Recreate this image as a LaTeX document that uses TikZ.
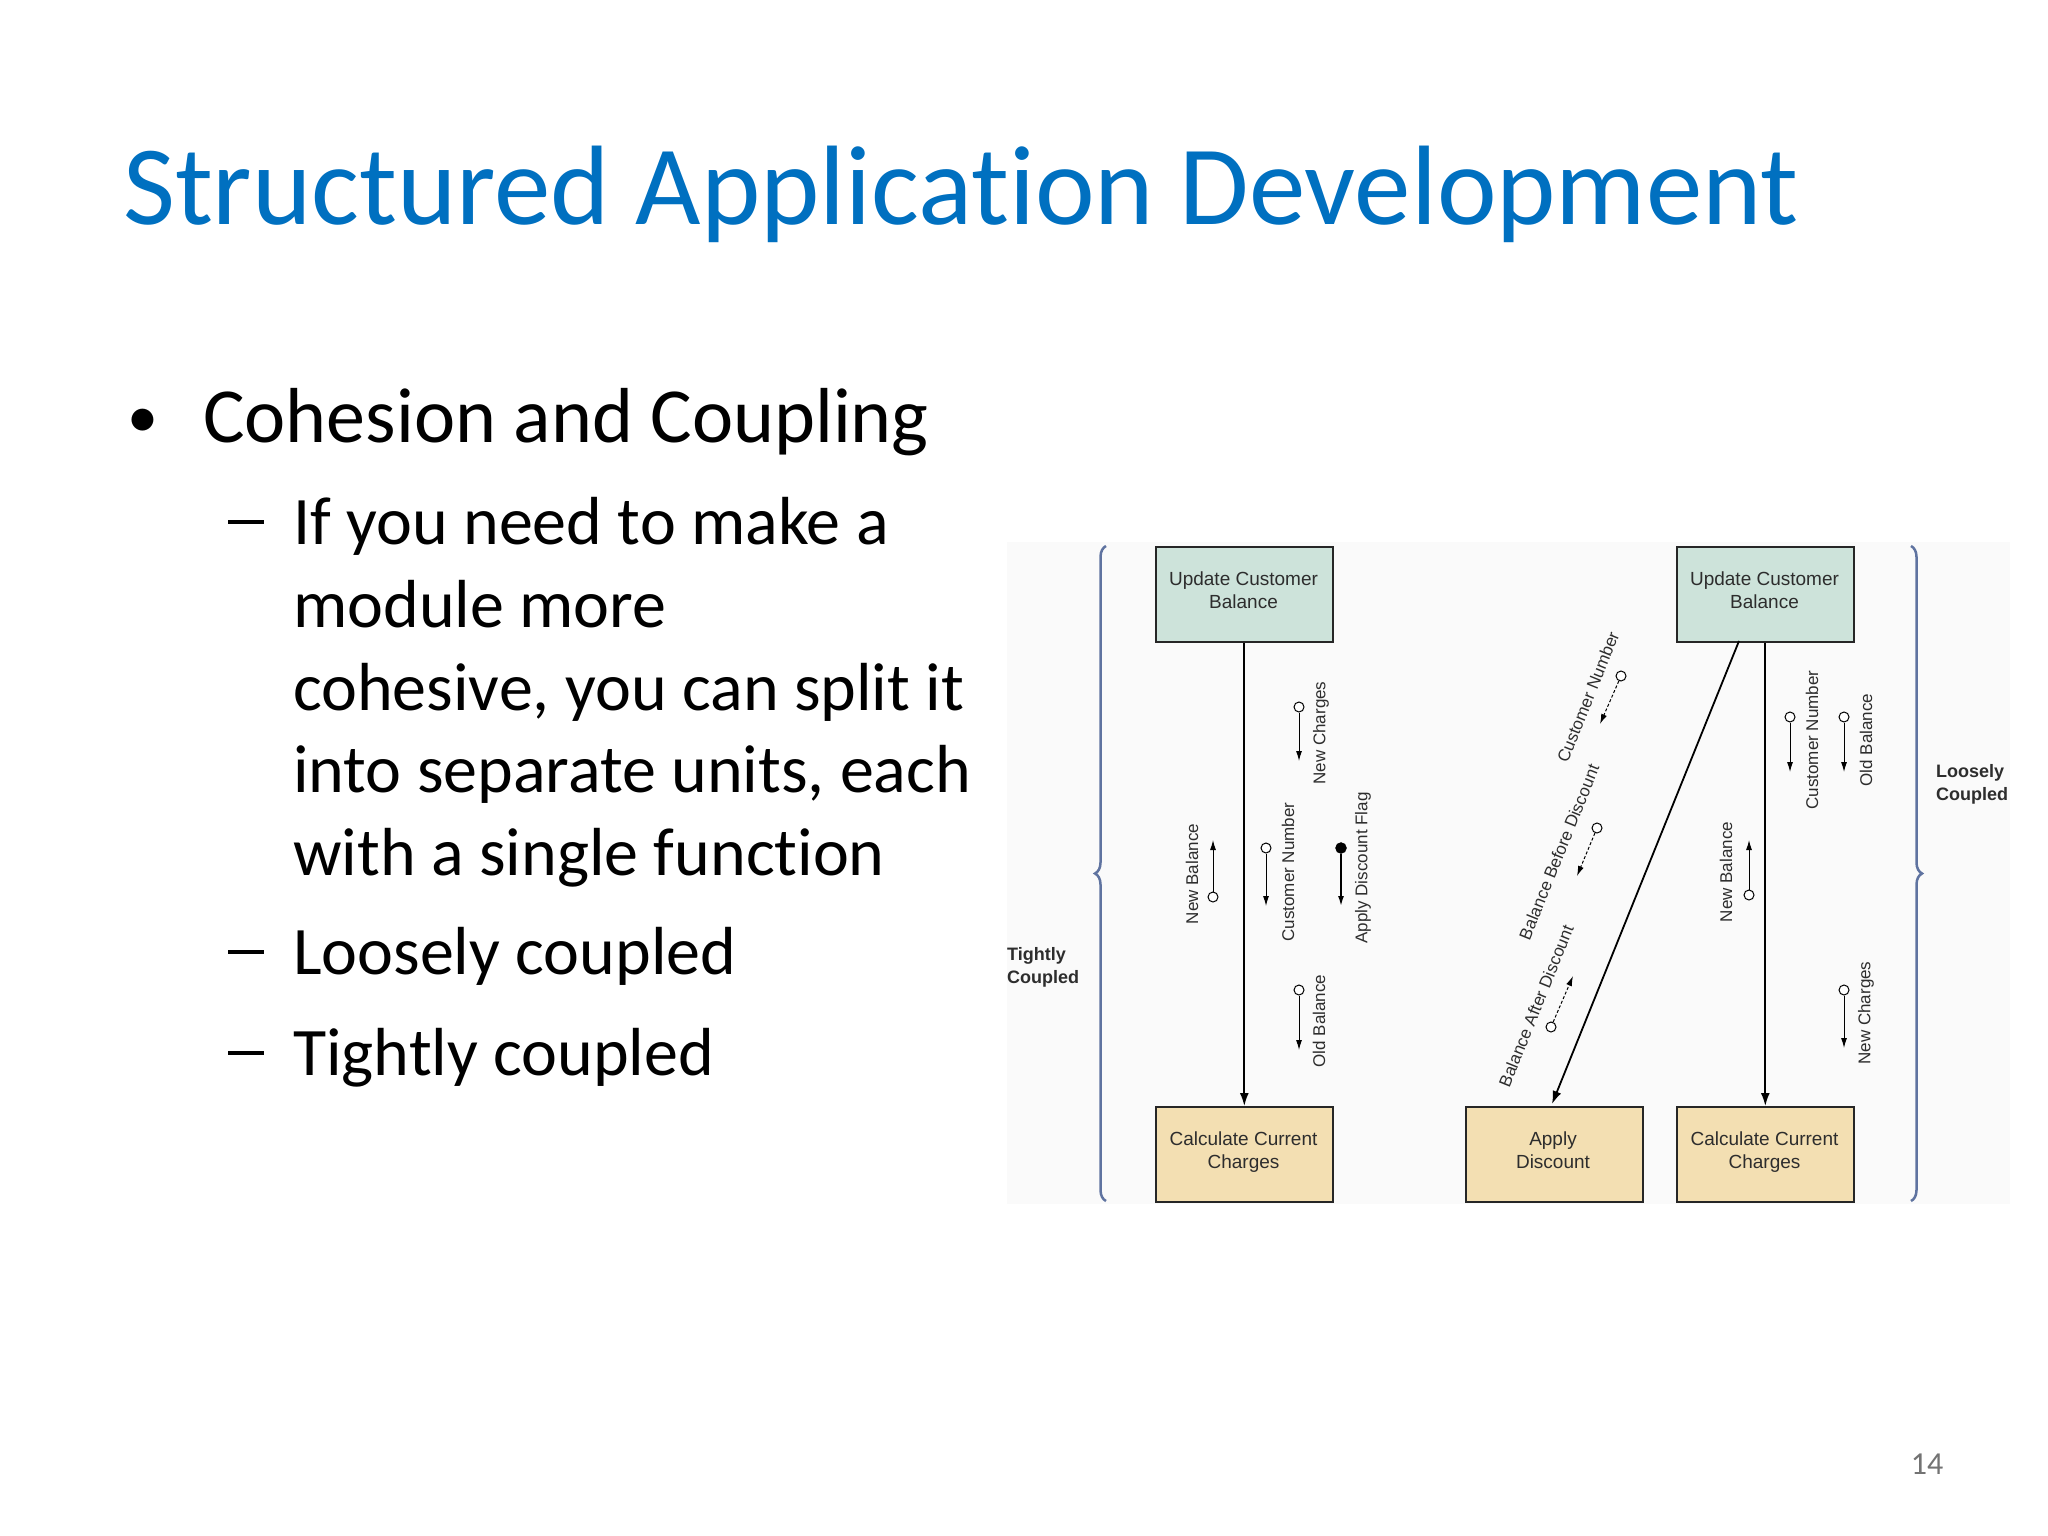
\documentclass[tikz,border=0pt]{standalone}
\usepackage{fontspec}
\setmainfont{Carlito}[Ligatures=NoCommon]
\newfontfamily\arialf{Liberation Sans}
\usetikzlibrary{decorations.pathreplacing,arrows.meta}
\definecolor{titleblue}{RGB}{0,112,192}
\definecolor{topfill}{RGB}{205,227,218}
\definecolor{botfill}{RGB}{243,223,178}
\definecolor{bracecol}{RGB}{95,115,160}
\definecolor{labcol}{RGB}{45,45,45}
\tikzset{
  mod/.style={draw=black!85,line width=1.6pt,minimum width=177pt,minimum height=95pt,anchor=north west,align=center,text=labcol,font=\arialf\fontsize{19}{23}\selectfont,inner sep=0pt},
  modtext/.style={align=center,text=labcol,font=\arialf\fontsize{19}{23}\selectfont,anchor=north},
  flow/.style={line width=1.8pt,-{Latex[length=13pt,width=9pt]}},
  couple/.style={line width=1pt,-{Latex[length=10pt,width=6pt]}},
  dcouple/.style={line width=1pt,dashed,dash pattern=on 3pt off 2pt,-{Latex[length=10pt,width=6pt]}},
  oc/.style={circle,draw=black,line width=1pt,fill=white,minimum size=10pt,inner sep=0pt},
  fc/.style={circle,draw=black,fill=black,minimum size=11pt,inner sep=0pt},
  lab/.style={text=labcol,font=\arialf\fontsize{17}{20}\selectfont,inner sep=0pt},
  brc/.style={draw=bracecol,line width=2.5pt,decorate,decoration={brace,amplitude=11pt}},
  side/.style={text=labcol,font=\arialf\bfseries\fontsize{18}{23}\selectfont,align=left,anchor=north west,inner sep=0pt},
  dashmark/.style={fill=black}
}
\begin{document}
\begin{tikzpicture}[x=1pt,y=-1pt]
\useasboundingbox (0,0) rectangle (2048,1536);
\fill[white] (0,0) rectangle (2048,1536);
% title and text
\node[anchor=base west,inner sep=0pt,text=titleblue,font=\fontsize{113}{124}\selectfont] (title) at (123,224) {Structured Application Development};
\node[anchor=base west,inner sep=0pt,font=\fontsize{62}{70}\selectfont] (b1) at (127,437) {•};
\node[anchor=base west,inner sep=0pt,font=\fontsize{78}{90}\selectfont] (t1) at (203,442) {Cohesion and Coupling};
\foreach \y/\t in {544/If you need to make a,627/module more,710/{cohesive, you can split it},792/{into separate units, each},875/with a single function,974/Loosely coupled,1075/Tightly coupled}{
  \node[anchor=base west,inner sep=0pt,font=\fontsize{68}{80}\selectfont] at (293,\y) {\t};
}
\foreach \y in {544,974,1075}{\fill[dashmark] (228,\y-24) rectangle (264,\y-20);}
\node[anchor=base,inner sep=0pt,text=black!55,font=\fontsize{32}{36}\selectfont] (pg) at (1927,1474) {14};
% diagram
\begin{scope}[shift={(-9,-6)}]
\fill[black!2] (1016,548) rectangle (2019,1210);
\clip (1010,540) rectangle (2019,1215);
% left panel
\node[mod,fill=topfill,anchor=north west] (lu) at (1164,552) {};
\node[modtext] at (1252.5,574) {Update Customer\\Balance};
\node[mod,fill=botfill,anchor=north west] (lc) at (1164,1112) {};
\node[modtext] at (1252.5,1134) {Calculate Current\\Charges};
\draw[flow] (lu.south) -- (lc.north);
\draw[brc] (1115,1207) -- (1115,552) node[pos=0.35] (lb) {};
\node[side] (tc) at (1016,953) {Tightly\\Coupled};
% left couples
\node[oc] (nb1) at (1222,903) {}; \coordinate (nb1t) at (1222,846);
\draw[couple] (nb1) -- (nb1t);
\node[lab,rotate=90] at (1201,880) {New Balance};
\node[oc] (cn1) at (1275,854) {}; \coordinate (cn1t) at (1275,912);
\draw[couple] (cn1) -- (cn1t);
\node[lab,rotate=90] at (1297,878) {Customer Number};
\node[oc] (nc1) at (1308,713) {}; \coordinate (nc1t) at (1308,767);
\draw[couple] (nc1) -- (nc1t);
\node[lab,rotate=90] at (1330,739) {New Charges};
\node[fc] (ad1) at (1350,854) {}; \coordinate (ad1t) at (1350,912);
\draw[couple,line width=1.6pt] (ad1) -- (ad1t);
\node[lab,rotate=90] at (1372,874) {Apply Discount Flag};
\node[oc] (ob1) at (1308,996) {}; \coordinate (ob1t) at (1308,1056);
\draw[couple] (ob1) -- (ob1t);
\node[lab,rotate=90] at (1328,1027) {Old Balance};
% right panel
\node[mod,fill=topfill] (ru) at (1685,552) {};
\node[modtext] at (1773.5,574) {Update Customer\\Balance};
\node[mod,fill=botfill] (ra) at (1474,1112) {};
\node[modtext] at (1562,1134) {Apply\\Discount};
\node[mod,fill=botfill] (rc) at (1685,1112) {};
\node[modtext] at (1773.5,1134) {Calculate Current\\Charges};
\coordinate (rdu) at (1748,647); \coordinate (rda) at (1561,1110);
\draw[flow] (rdu) -- (rda);
\draw[flow] (ru.south) -- (rc.north);
\draw[brc] (1920,552) -- (1920,1207) node[pos=0.366] (rb) {};
\node[side] (lc2) at (1945,770) {Loosely\\Coupled};
% right couples
\node[oc] (cn2) at (1630,682) {}; \coordinate (cn2t) at (1609,730);
\draw[dcouple] (cn2) -- (cn2t);
\node[lab,rotate=68] at (1597,703) {Customer Number};
\node[oc] (bb2) at (1606,834) {}; \coordinate (bb2t) at (1586,882);
\draw[dcouple] (bb2) -- (bb2t);
\node[lab,rotate=68] at (1568,858) {Balance Before Discount};
\node[oc] (ba2) at (1560,1033) {}; \coordinate (ba2t) at (1582,982);
\draw[dcouple] (ba2) -- (ba2t);
\node[lab,rotate=68] at (1545,1012) {Balance After Discount};
\node[oc] (nb2) at (1758,901) {}; \coordinate (nb2t) at (1758,846);
\draw[couple] (nb2) -- (nb2t);
\node[lab,rotate=90] at (1735,878) {New Balance};
\node[oc] (cn3) at (1799,723) {}; \coordinate (cn3t) at (1799,778);
\draw[couple] (cn3) -- (cn3t);
\node[lab,rotate=90] at (1821,746) {Customer Number};
\node[oc] (ob2) at (1853,723) {}; \coordinate (ob2t) at (1853,778);
\draw[couple] (ob2) -- (ob2t);
\node[lab,rotate=90] at (1875,746) {Old Balance};
\node[oc] (nc2) at (1853,996) {}; \coordinate (nc2t) at (1853,1054);
\draw[couple] (nc2) -- (nc2t);
\node[lab,rotate=90] at (1875,1019) {New Charges};
\end{scope}
\end{tikzpicture}
\end{document}
